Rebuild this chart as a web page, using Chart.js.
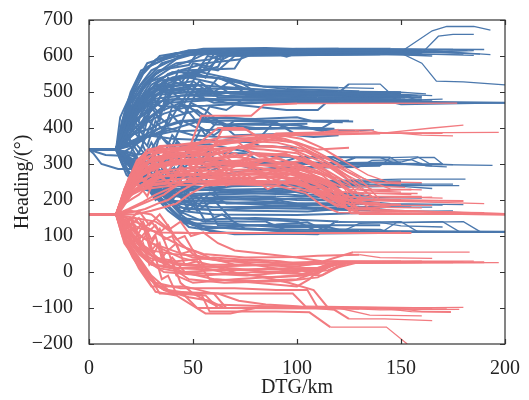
<!DOCTYPE html>
<html>
<head>
<meta charset="utf-8">
<script src="https://cdn.jsdelivr.net/npm/chart.js@4.4.1/dist/chart.umd.min.js"></script>
<style>
  html, body { margin: 0; padding: 0; background: #fff; }
</style>
</head>
<body>
<canvas id="headingChart" width="529" height="400"></canvas>
<script>
// axis ticks
const xTicks = [0, 50, 100, 150, 200];
const yTicks = [-200, -100, 0, 100, 200, 300, 400, 500, 600, 700];

// ===== blue trajectories (start at 340°), [DTG km, heading °] =====
const blueBand610 = [
  [[0,340],[13,340],[15,430],[19,480],[23,530],[28,570],[40,600],[45,612],[150,615],[170,612],[185,615]],
  [[0,340],[13,340],[17,400],[21,470],[26,520],[33,560],[48,575],[52,608],[160,612],[178,608]],
  [[0,340],[13,340],[18,380],[24,450],[30,500],[40,540],[55,560],[60,605],[120,610],[162,605],[185,602]],
  [[0,340],[14,340],[20,420],[28,480],[36,520],[50,550],[62,570],[66,612],[140,618],[175,618]],
  [[0,340],[13,340],[19,440],[25,500],[32,550],[42,580],[58,590],[68,618],[120,620],[190,618]],
  [[0,340],[14,340],[22,460],[30,530],[45,560],[70,565],[75,610],[150,612],[166,614],[193,604]],
  [[0,340],[13,340],[18,450],[25,520],[35,580],[50,605],[150,612],[165,670],[172,682],[185,682],[193,672]],
  [[0,340],[13,340],[20,470],[30,540],[44,600],[60,610],[160,608],[168,655],[175,660],[185,660]],
  [[0,340],[13,340],[16,420],[22,500],[30,560],[46,605],[90,606],[95,598],[100,608],[150,608],[160,580],[167,530],[180,528],[200,520]],
  [[0,340],[14,340],[20,410],[26,490],[38,550],[56,580],[72,590],[80,608],[170,610],[188,605]],
  [[0,340],[13,340],[16,400],[20,460],[24,420],[28,500],[33,470],[38,540],[44,520],[50,580],[58,570],[66,610],[170,612]],
  [[0,340],[13,340],[18,420],[23,480],[28,440],[33,520],[38,490],[43,560],[50,540],[57,600],[64,590],[72,615],[160,616]],
  [[0,340],[13,340],[17,380],[21,440],[26,400],[31,480],[36,450],[42,540],[48,510],[54,570],[62,560],[70,600],[180,605]],
  [[0,340],[13,340],[18,360],[22,420],[26,380],[30,460],[34,420],[38,520],[44,500],[50,560],[56,540],[62,600],[140,605],[165,600]],
  [[0,340],[13,340],[16,420],[20,500],[25,560],[36,590],[44,602],[60,606],[100,604],[130,606],[158,604]],
  [[0,340],[13,340],[17,440],[22,520],[28,580],[38,598],[48,616],[90,618],[110,612],[150,614],[172,612]],
  [[0,340],[14,340],[18,460],[24,540],[32,590],[42,608],[70,610],[100,620],[145,620],[168,617]],
  [[0,340],[13,340],[19,470],[26,550],[34,600],[55,620],[85,622],[120,616],[155,618],[182,616]],
  [[0,340],[13,340],[16,390],[21,450],[27,520],[40,570],[50,590],[58,612],[95,612],[128,608],[164,610]]
];
const blueBand480 = [
  [[0,340],[13,340],[16,400],[22,440],[30,470],[40,480],[200,470]],
  [[0,340],[13,340],[18,390],[26,460],[35,500],[145,495],[160,488]],
  [[0,340],[14,340],[20,430],[28,490],[50,500],[120,498],[125,522],[140,522],[145,495],[165,490]],
  [[0,340],[13,340],[15,360],[22,420],[30,450],[38,520],[50,530],[58,498],[150,490],[158,478],[170,480]],
  [[0,340],[13,340],[17,370],[24,410],[32,460],[42,510],[55,520],[62,485],[150,480]],
  [[0,340],[13,340],[19,400],[27,480],[36,530],[48,540],[60,525],[68,495],[140,495],[148,480],[156,478]],
  [[0,340],[14,340],[21,380],[29,430],[38,470],[60,478],[70,465],[95,450],[110,450],[114,470],[200,470]],
  [[0,340],[13,340],[18,420],[27,500],[40,540],[52,548],[72,530],[80,500],[160,485]],
  [[0,340],[13,340],[16,380],[25,470],[34,510],[46,520],[56,480],[110,475],[140,478],[150,465],[200,470]],
  [[0,340],[13,340],[20,450],[30,510],[45,505],[60,470],[120,472],[170,470]],
  [[0,340],[14,340],[24,400],[34,450],[44,490],[70,500],[78,488],[130,490],[155,488]],
  [[0,340],[13,340],[20,330],[24,380],[28,350],[32,420],[36,390],[40,460],[46,440],[52,500],[60,490],[68,500],[150,498]],
  [[0,340],[13,340],[21,310],[26,350],[30,300],[34,380],[40,350],[45,420],[52,400],[58,460],[66,450],[74,480],[160,478]],
  [[0,340],[13,340],[17,390],[22,350],[27,430],[32,400],[37,480],[43,450],[49,520],[55,490],[62,540],[70,520],[80,500],[150,495]],
  [[0,340],[13,340],[19,430],[24,390],[29,470],[34,440],[40,500],[46,470],[53,530],[60,500],[68,530],[76,490],[150,488]],
  [[0,340],[13,340],[16,380],[21,430],[27,470],[35,505],[60,510],[90,505],[120,500],[148,500],[162,495]],
  [[0,340],[13,340],[17,400],[23,460],[31,515],[50,520],[70,512],[100,500],[140,492],[158,490]],
  [[0,340],[14,340],[18,370],[24,430],[30,480],[45,490],[80,488],[110,485],[152,484]],
  [[0,340],[13,340],[19,410],[25,470],[33,530],[48,545],[62,538],[76,520],[95,508],[130,502],[150,500]],
  [[0,340],[13,340],[20,420],[28,470],[36,460],[56,462],[82,470],[120,480],[160,480]],
  [[0,340],[14,340],[21,440],[30,520],[40,555],[54,555],[66,540],[84,515],[120,512],[137,510]],
  [[0,340],[13,340],[22,450],[32,505],[48,508],[70,495],[100,492],[143,492]],
  [[0,340],[13,340],[18,400],[26,440],[36,478],[54,482],[78,476],[104,482],[146,476],[165,475]]
];
const blueBand400 = [
  [[0,340],[13,340],[18,370],[26,410],[36,440],[48,460],[56,420],[115,420],[127,418]],
  [[0,340],[13,340],[20,380],[30,400],[40,430],[52,450],[60,410],[100,408],[110,395],[128,392],[137,395]],
  [[0,340],[14,340],[16,330],[24,360],[34,400],[44,420],[62,415],[70,400],[112,400],[118,420],[125,420]],
  [[0,340],[13,340],[22,400],[32,440],[44,470],[54,440],[66,410],[90,415],[100,380],[108,375],[120,380]],
  [[0,340],[13,340],[19,360],[28,380],[40,370],[60,365],[80,360],[88,410],[105,412]],
  [[0,340],[13,340],[17,350],[26,370],[38,400],[50,380],[75,370],[82,350],[100,345]],
  [[0,340],[13,340],[22,300],[27,260],[32,320],[36,280],[42,360],[48,330],[54,400],[60,380],[70,420],[120,418]],
  [[0,340],[14,340],[19,370],[24,330],[29,400],[34,370],[39,440],[44,410],[49,470],[56,450],[64,410],[80,400],[110,398]],
  [[0,340],[13,340],[20,400],[26,360],[32,440],[38,410],[44,470],[50,430],[56,380],[62,420],[70,380],[100,385]],
  [[0,340],[13,340],[20,360],[30,380],[42,400],[58,428],[80,425],[100,430],[108,418],[122,416]],
  [[0,340],[13,340],[19,350],[28,375],[40,390],[60,395],[88,398],[104,402],[113,390]],
  [[0,340],[14,340],[21,365],[32,395],[46,420],[66,430],[84,420],[96,400],[118,398]]
];
const blueBand300 = [
  [[0,340],[13,340],[16,330],[22,300],[30,310],[45,320],[60,310],[80,300],[120,300],[128,318],[140,318],[148,300],[194,296]],
  [[0,340],[13,340],[18,320],[26,290],[40,300],[70,300],[80,285],[110,290],[130,292],[136,310],[155,312],[162,295],[172,292]],
  [[0,340],[14,340],[20,300],[30,280],[50,290],[90,300],[100,318],[115,318],[122,298],[170,300]],
  [[0,340],[13,340],[15,320],[18,300],[23,290],[28,300],[40,320],[60,330],[75,330],[85,300],[150,305],[158,318],[166,318],[170,300]],
  [[0,340],[2,330],[6,300],[14,286],[22,286],[26,300],[34,310],[50,300],[100,300],[105,318],[118,318],[124,300],[160,302]],
  [[0,340],[13,340],[17,310],[24,270],[36,260],[60,270],[90,290],[140,295],[145,318],[158,320],[164,300],[175,298]],
  [[0,340],[2,336],[8,325],[18,322],[28,330],[36,350],[58,355],[70,340],[90,320],[145,318],[150,300],[165,295]],
  [[0,340],[13,340],[23,280],[28,240],[33,290],[38,250],[44,300],[50,260],[56,310],[64,300],[90,300],[170,298]],
  [[0,340],[14,340],[22,360],[28,320],[34,380],[40,340],[46,290],[52,330],[58,280],[66,300],[100,305],[140,300]]
];
const blueBand210 = [
  [[0,340],[13,340],[16,300],[22,260],[30,240],[50,245],[80,250],[130,255],[150,258],[181,258]],
  [[0,340],[13,340],[17,290],[24,250],[40,230],[70,238],[110,245],[135,244],[175,244]],
  [[0,340],[14,340],[19,280],[28,240],[36,225],[56,228],[100,232],[125,240],[160,245]],
  [[0,340],[13,340],[18,270],[26,230],[38,210],[60,215],[95,220],[115,235],[150,238],[165,232]],
  [[0,340],[13,340],[20,260],[32,220],[48,205],[80,210],[100,200],[130,198],[145,190],[180,187]],
  [[0,340],[13,340],[20,350],[25,300],[30,360],[35,310],[40,380],[46,340],[52,300],[58,340],[64,260],[80,250],[150,252]],
  [[0,340],[13,340],[23,300],[29,330],[35,250],[41,290],[47,220],[53,260],[60,230],[70,240],[120,240],[178,240]],
  [[0,340],[13,340],[22,290],[30,240],[38,200],[50,190],[90,195],[105,180],[140,175],[150,168],[175,170]],
  [[0,340],[13,340],[24,270],[34,220],[42,190],[60,180],[100,182],[118,172],[160,168],[180,165]],
  [[0,340],[14,340],[26,260],[36,210],[46,175],[75,170],[105,168],[120,175],[135,180],[165,180]],
  [[0,340],[13,340],[25,300],[34,250],[40,200],[44,170],[60,160],[100,158],[140,165]],
  [[0,340],[13,340],[21,300],[30,260],[38,230],[46,200],[62,195],[88,185],[130,188],[170,186]],
  [[0,340],[13,340],[24,270],[30,220],[35,260],[40,200],[46,240],[52,180],[58,220],[66,190],[90,190],[130,192]],
  [[0,340],[13,340],[21,330],[26,280],[31,330],[37,270],[43,320],[49,230],[55,270],[62,210],[90,210],[160,205]],
  [[0,340],[13,340],[20,300],[28,250],[36,235],[48,240],[70,226],[92,232],[105,215],[135,212]],
  [[0,340],[13,340],[21,290],[29,245],[37,225],[55,205],[80,200],[102,205],[126,196]],
  [[0,340],[14,340],[22,280],[30,235],[38,215],[52,230],[74,220],[96,215],[118,205],[150,200]],
  [[0,340],[13,340],[23,270],[31,225],[40,195],[58,200],[85,205],[100,190],[125,182],[155,180]],
  [[0,340],[13,340],[24,260],[33,210],[42,180],[60,172],[82,178],[110,175],[142,172]],
  [[0,340],[13,340],[25,280],[34,240],[44,215],[62,220],[90,226],[112,220],[132,218]],
  [[0,340],[14,340],[26,290],[35,255],[45,245],[64,250],[84,245],[98,238],[120,250],[150,250]]
];
const blueBand110 = [
  [[0,340],[13,340],[22,280],[32,220],[42,160],[50,130],[70,120],[100,112],[200,110]],
  [[0,340],[13,340],[24,270],[35,200],[44,150],[56,125],[80,120],[100,108],[120,108],[130,135],[180,140],[188,112]],
  [[0,340],[14,340],[26,260],[37,190],[46,140],[60,110],[110,105],[118,138],[150,140],[158,112],[200,110]],
  [[0,340],[13,340],[28,250],[38,180],[48,125],[70,105],[140,108],[148,138],[170,140],[178,112],[190,110]],
  [[0,340],[13,340],[23,290],[33,230],[43,170],[55,140],[85,140],[95,115],[160,110]],
  [[0,340],[13,340],[27,270],[36,210],[44,160],[54,118],[72,128],[90,132],[105,138],[112,120],[140,118],[145,110],[200,112]],
  [[0,340],[13,340],[25,260],[32,200],[38,230],[44,160],[50,200],[56,140],[64,160],[75,120],[130,115],[200,113]],
  [[0,340],[13,340],[22,320],[28,270],[34,230],[40,280],[46,220],[52,170],[60,200],[68,150],[100,140],[110,112],[200,110]],
  [[0,340],[13,340],[24,290],[30,250],[36,190],[42,230],[48,170],[54,210],[62,130],[80,130],[140,130]],
  [[0,340],[13,340],[26,250],[36,190],[44,150],[52,145],[80,150],[100,145],[120,140],[140,138],[150,128],[170,125]],
  [[0,340],[13,340],[27,240],[38,170],[46,135],[66,135],[90,125],[115,125],[125,110],[160,112]]
];

// ===== red trajectories (start at 160°) =====
const redBand390 = [
  [[0,160],[13,160],[17,200],[22,260],[28,320],[38,340],[55,345],[70,360],[80,372],[100,385],[197,388]],
  [[0,160],[13,160],[18,220],[25,280],[32,330],[48,340],[54,434],[78,434],[84,464],[100,468],[177,469]],
  [[0,160],[13,160],[16,210],[22,270],[30,310],[45,320],[60,330],[75,350],[95,380],[140,385],[165,400],[180,408]],
  [[0,160],[13,160],[19,240],[26,300],[36,320],[60,325],[80,360],[90,385],[130,390],[150,385],[160,380],[175,378]],
  [[0,160],[13,160],[17,230],[24,300],[34,340],[50,345],[62,400],[74,400],[80,380],[110,385],[120,395],[135,395],[140,385],[170,385]],
  [[0,160],[14,160],[20,250],[27,300],[38,330],[58,330],[64,395],[76,395],[82,370],[100,360],[110,340],[125,345]]
];
const redBand200 = [
  [[0,160],[13,160],[16,200],[20,240],[30,270],[60,290],[90,300],[100,290],[120,260],[130,160],[200,160]],
  [[0,160],[13,160],[18,210],[24,250],[34,280],[65,300],[90,295],[115,250],[125,200],[190,190]],
  [[0,160],[13,160],[17,220],[23,260],[32,290],[55,310],[80,300],[105,280],[118,230],[126,162],[170,160]],
  [[0,160],[13,160],[19,230],[26,270],[36,300],[70,320],[95,300],[110,265],[120,240],[128,220],[155,215]],
  [[0,160],[14,160],[20,250],[28,290],[40,310],[60,318],[85,285],[100,270],[108,230],[115,200],[150,200]],
  [[0,160],[13,160],[16,190],[22,230],[30,260],[50,280],[75,285],[100,258],[110,225],[130,220],[158,218]],
  [[0,160],[13,160],[18,200],[25,240],[33,265],[60,270],[90,270],[105,240],[118,210],[140,205],[165,208]],
  [[0,160],[13,160],[17,190],[24,215],[30,250],[45,260],[70,262],[100,262],[115,230],[124,200],[135,185],[145,180]],
  [[0,160],[14,160],[21,220],[29,250],[38,270],[65,275],[95,285],[112,260],[122,215],[130,175],[200,160]],
  [[0,160],[13,160],[18,200],[23,230],[28,245],[48,250],[80,250],[100,245],[110,235],[125,210],[135,200],[180,198]],
  [[0,160],[13,160],[20,240],[30,300],[40,330],[55,330],[62,360],[72,360],[78,330],[100,320],[110,300],[120,290],[130,260],[140,200],[160,198]],
  [[0,160],[13,160],[19,210],[26,230],[40,240],[60,245],[90,240],[104,220],[112,185],[120,165],[200,160]],
  [[0,160],[13,160],[16,190],[20,220],[30,240],[45,250],[70,255],[100,250],[115,215],[128,195],[140,192]],
  [[0,160],[14,160],[17,210],[21,260],[28,290],[42,300],[70,300],[84,310],[98,300],[106,280],[116,265],[125,230],[136,225],[150,222]],
  [[0,160],[13,160],[18,230],[22,290],[27,250],[32,320],[38,280],[44,330],[50,290],[58,320],[66,280],[75,310],[85,270],[95,300],[105,260],[115,240],[124,175],[200,162]],
  [[0,160],[13,160],[19,220],[24,270],[29,230],[34,300],[40,260],[46,310],[52,270],[60,300],[68,260],[78,290],[88,250],[100,280],[110,240],[120,200],[170,198]],
  [[0,160],[13,160],[17,200],[23,250],[28,210],[33,280],[39,240],[45,290],[51,250],[58,280],[66,240],[76,270],[86,230],[98,260],[108,220],[118,190],[130,165],[200,158]],
  [[0,160],[14,160],[20,240],[26,300],[31,260],[36,330],[42,300],[48,340],[55,310],[62,340],[70,300],[80,330],[92,300],[104,310],[114,280],[124,230],[134,210],[160,210]],
  [[0,160],[13,160],[18,230],[24,260],[30,240],[36,280],[43,250],[50,290],[58,260],[66,290],[76,250],[88,280],[100,250],[110,220],[125,190],[150,188]],
  [[0,160],[13,160],[21,260],[27,320],[33,290],[40,340],[48,320],[56,350],[64,320],[72,350],[82,320],[94,330],[106,300],[116,290],[126,250],[136,230],[155,228]],
  [[0,160],[13,160],[16,200],[21,250],[26,230],[32,270],[38,250],[44,290],[52,260],[62,280],[72,250],[84,270],[96,240],[108,220],[120,180],[140,175]],
  [[0,160],[13,160],[19,250],[25,310],[31,280],[37,320],[45,300],[53,330],[61,310],[70,330],[80,300],[90,320],[102,290],[112,270],[122,220],[128,165],[200,160]],
  [[0,160],[13,160],[18,240],[23,300],[30,340],[44,345],[56,360],[70,370],[86,375],[98,360],[108,330],[120,300],[132,260],[145,230],[160,228]],
  [[0,160],[13,160],[19,260],[25,320],[34,350],[50,355],[64,375],[80,380],[94,370],[104,350],[114,320],[124,280],[136,250],[150,245]],
  [[0,160],[14,160],[20,270],[27,330],[40,345],[58,350],[72,365],[90,360],[104,340],[116,300],[126,260],[138,200],[165,198]],
  [[0,160],[13,160],[17,220],[22,280],[29,310],[46,330],[60,340],[78,350],[96,345],[110,310],[122,275],[134,240],[152,235]],
  [[0,160],[13,160],[18,230],[24,290],[32,320],[50,335],[68,345],[84,340],[100,330],[112,290],[125,245],[132,200],[180,196]],
  [[0,160],[13,160],[17,210],[23,260],[31,300],[48,310],[66,320],[82,330],[96,325],[106,300],[118,260],[128,210],[136,170],[200,162]],
  [[0,160],[14,160],[21,280],[28,340],[38,350],[52,360],[66,362],[80,368],[92,380],[102,370],[112,345],[122,310],[134,270],[144,250],[160,248]],
  [[0,160],[13,160],[19,250],[26,290],[36,300],[54,300],[72,310],[90,315],[100,300],[110,280],[120,250],[130,230],[142,226],[155,230]],
  [[0,160],[13,160],[15,180],[18,200],[21,230],[24,260],[28,280],[34,300],[46,305],[62,300],[80,290],[96,280],[110,255],[122,215],[132,190],[150,185]],
  [[0,160],[13,160],[15,190],[17,230],[20,270],[23,310],[27,330],[36,335],[52,340],[70,345],[88,350],[104,335],[116,300],[126,250],[136,210],[170,205]],
  [[0,160],[13,160],[18,170],[24,185],[30,200],[36,215],[42,240],[50,260],[70,270],[95,275],[108,250],[118,210],[128,180],[160,178]],
  [[0,160],[13,160],[20,165],[27,175],[33,190],[38,200],[44,225],[52,250],[66,258],[90,265],[104,245],[116,205],[126,170],[190,165]],
  [[0,160],[13,160],[22,160],[30,170],[36,180],[42,190],[48,215],[56,240],[75,245],[96,250],[110,225],[122,190],[150,188]],
  [[0,160],[13,160],[19,175],[26,195],[32,215],[38,230],[45,250],[60,265],[80,275],[100,270],[112,240],[124,200],[140,185],[165,185]]
];
const redBand108 = [
  [[0,160],[13,160],[18,140],[25,120],[35,110],[50,108],[155,108]],
  [[0,160],[13,160],[22,150],[32,140],[40,110],[48,108],[90,108],[130,108],[150,110]]
];
const redBand28 = [
  [[0,160],[13,160],[16,120],[20,90],[26,50],[32,20],[45,10],[70,5],[95,8],[110,10],[118,25],[197,26]],
  [[0,160],[13,160],[17,110],[22,70],[28,30],[36,0],[55,-10],[80,0],[100,-5],[112,-10],[122,20],[128,28],[190,28]],
  [[0,160],[14,160],[18,100],[24,60],[30,20],[40,10],[60,15],[90,20],[110,25],[127,55],[183,55]],
  [[0,160],[13,160],[16,130],[21,100],[27,60],[34,30],[50,20],[75,20],[100,15],[115,30],[170,28]],
  [[0,160],[13,160],[18,130],[23,80],[29,40],[38,20],[48,-20],[65,-30],[95,-25],[110,-15],[118,10],[130,28],[175,26]],
  [[0,160],[13,160],[19,120],[25,80],[31,40],[42,30],[60,40],[85,30],[105,0],[115,5],[125,28],[160,30]],
  [[0,160],[13,160],[17,140],[22,110],[30,80],[40,60],[50,40],[70,30],[90,10],[102,-5],[110,-5],[118,25],[150,27]],
  [[0,160],[14,160],[17,120],[23,90],[29,60],[35,30],[45,0],[60,-20],[80,-30],[100,-40],[106,-20],[112,15],[120,28],[145,28]],
  [[0,160],[13,160],[18,150],[26,130],[35,100],[45,70],[55,50],[75,40],[100,42],[110,45],[130,48],[140,40],[165,38]],
  [[0,160],[13,160],[20,170],[30,160],[38,120],[44,80],[52,40],[65,30],[90,25],[120,30],[185,30]],
  [[0,160],[13,160],[16,140],[19,100],[22,130],[25,80],[28,110],[31,50],[34,80],[37,20],[40,40],[46,0],[60,5],[90,10],[110,12],[120,28],[180,28]],
  [[0,160],[13,160],[17,130],[20,150],[23,100],[26,130],[29,70],[32,100],[35,40],[38,60],[42,-10],[50,-30],[70,-20],[100,-10],[115,15],[125,26],[190,26]],
  [[0,160],[13,160],[16,130],[22,150],[26,120],[30,140],[34,110],[38,130],[42,90],[46,100],[50,60],[58,40],[70,20],[100,20],[118,24],[160,26]],
  [[0,160],[14,160],[18,150],[22,110],[26,140],[30,90],[34,120],[38,60],[42,80],[46,20],[52,30],[58,-20],[80,-25],[100,-20],[110,0],[120,25],[175,27]],
  [[0,160],[13,160],[19,140],[24,170],[29,130],[34,160],[39,120],[44,140],[49,100],[55,110],[62,80],[70,60],[85,50],[100,40],[112,30],[150,30]],
  [[0,160],[13,160],[18,110],[24,80],[30,60],[40,50],[52,45],[64,30],[78,35],[92,30],[104,20],[114,25],[140,27]],
  [[0,160],[13,160],[17,120],[23,70],[30,45],[42,20],[56,15],[70,10],[86,0],[100,5],[112,10],[122,26],[168,27]],
  [[0,160],[14,160],[19,130],[25,100],[33,70],[44,40],[58,20],[72,-5],[88,-15],[104,-10],[114,20],[124,28],[178,28]],
  [[0,160],[13,160],[15,140],[17,110],[20,80],[24,50],[28,30],[34,10],[44,0],[58,-5],[76,-10],[96,0],[112,8],[122,27],[155,28]]
];
const redBandMinus100 = [
  [[0,160],[13,160],[16,110],[20,60],[25,20],[30,-20],[34,-60],[45,-60],[52,-100],[100,-100],[172,-100]],
  [[0,160],[13,160],[17,100],[22,50],[28,0],[33,-40],[40,-60],[54,-62],[58,-110],[90,-110],[106,-112],[116,-153],[143,-153],[153,-200]],
  [[0,160],[14,160],[18,90],[24,40],[30,-10],[38,-50],[50,-60],[60,-90],[100,-98],[140,-100],[155,-110],[174,-112]],
  [[0,160],[13,160],[17,80],[23,30],[29,-20],[36,-50],[48,-70],[58,-80],[65,-100],[120,-100],[135,-120],[160,-122]],
  [[0,160],[13,160],[16,100],[21,40],[27,-10],[32,-55],[42,-65],[56,-115],[68,-115],[80,-100],[150,-100],[180,-98]],
  [[0,160],[13,160],[18,80],[24,30],[31,-30],[40,-55],[62,-60],[72,-80],[85,-90],[100,-95],[118,-105],[125,-130],[142,-130],[165,-135]],
  [[0,160],[14,160],[19,70],[26,20],[32,-30],[44,-45],[70,-45],[90,-50],[105,-50],[110,-100],[150,-102],[160,-110],[174,-110]],
  [[0,160],[13,160],[17,90],[24,10],[30,-40],[46,-40],[60,-60],[80,-60],[98,-60],[104,-95],[165,-100]],
  [[0,160],[13,160],[18,120],[21,140],[24,90],[27,110],[30,60],[33,80],[36,20],[40,30],[44,-30],[50,-60],[60,-60],[66,-100],[130,-102],[150,-104]],
  [[0,160],[13,160],[17,100],[20,120],[23,60],[26,80],[29,20],[32,40],[35,-20],[38,-10],[42,-60],[56,-65],[62,-100],[120,-100],[140,-105],[178,-104]],
  [[0,160],[13,160],[20,130],[24,150],[28,110],[32,130],[36,90],[40,100],[44,50],[50,60],[56,10],[64,0],[80,-10],[96,-30],[108,-50],[115,-100],[150,-100]]
];

const BLUE = '#4b78ad';
const RED = '#f27b80';

// segments in the crowded left part are drawn a little heavier,
// as hundreds of overlapping tracks make that region look solid
function segWidth(ctx) {
  const mid = (ctx.p0.parsed.x + ctx.p1.parsed.x) / 2;
  return mid < 125 ? 2 : 1.3;
}

function toDatasets(groups, color, order) {
  const out = [];
  groups.forEach(group => group.forEach(line => {
    out.push({
      data: line.map(p => ({ x: p[0], y: p[1] })),
      borderColor: color,
      borderWidth: 1.3,
      segment: { borderWidth: segWidth },
      pointRadius: 0,
      fill: false,
      tension: 0,
      order: order
    });
  }));
  return out;
}

const datasets = [
  ...toDatasets([redBand390, redBand200, redBand108, redBand28, redBandMinus100], RED, 0),
  ...toDatasets([blueBand610, blueBand480, blueBand400, blueBand300, blueBand210, blueBand110], BLUE, 1)
];

// frame round the plot with inward ticks on all four sides
const frameTicks = {
  id: 'frameTicks',
  afterDraw(chart) {
    const { ctx, chartArea: a, scales: { x, y } } = chart;
    ctx.save();
    ctx.strokeStyle = '#333';
    ctx.lineWidth = 1.2;
    ctx.strokeRect(a.left, a.top, a.right - a.left, a.bottom - a.top);
    ctx.beginPath();
    xTicks.forEach(v => {
      const px = Math.round(x.getPixelForValue(v)) + 0.5;
      ctx.moveTo(px, a.bottom); ctx.lineTo(px, a.bottom - 5);
      ctx.moveTo(px, a.top); ctx.lineTo(px, a.top + 5);
    });
    yTicks.forEach(v => {
      const py = Math.round(y.getPixelForValue(v)) + 0.5;
      ctx.moveTo(a.left, py); ctx.lineTo(a.left + 5, py);
      ctx.moveTo(a.right, py); ctx.lineTo(a.right - 5, py);
    });
    ctx.stroke();
    ctx.restore();
  }
};

const serif = 'Liberation Serif';

new Chart(document.getElementById('headingChart'), {
  type: 'line',
  data: { datasets },
  options: {
    responsive: false,
    animation: false,
    layout: { padding: { left: 0, right: 24, top: 16, bottom: 0 } },
    plugins: { legend: { display: false }, tooltip: { enabled: false } },
    scales: {
      x: {
        type: 'linear',
        min: 0, max: 200,
        afterBuildTicks: s => { s.ticks = xTicks.map(v => ({ value: v })); },
        afterFit: s => { s.height = 56; },
        grid: { display: false },
        border: { display: false },
        ticks: { color: '#222', padding: 5, maxRotation: 0, font: { family: serif, size: 20 } },
        title: { display: true, text: 'DTG/km', color: '#222', padding: { top: 0, bottom: 2 }, font: { family: serif, size: 20, lineHeight: 1 } }
      },
      y: {
        min: -200, max: 700,
        afterBuildTicks: s => { s.ticks = yTicks.map(v => ({ value: v })); },
        afterFit: s => { s.width = 89; },
        grid: { display: false },
        border: { display: false },
        ticks: {
          color: '#222', padding: 8, font: { family: serif, size: 20 },
          callback: v => String(v).replace('-', '\u2212')
        },
        title: { display: true, text: 'Heading/(°)', color: '#222', padding: { top: 13, bottom: 0 }, font: { family: serif, size: 20, lineHeight: 1 } }
      }
    }
  },
  plugins: [frameTicks]
});
</script>
</body>
</html>
